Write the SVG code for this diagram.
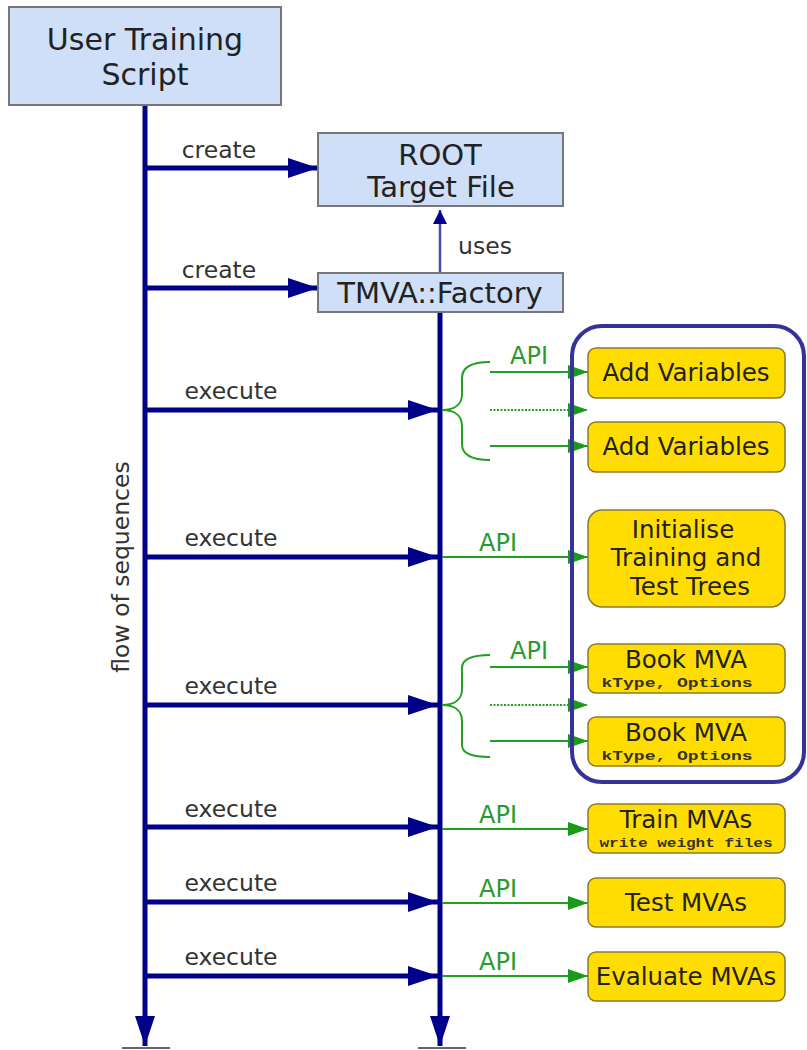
<svg xmlns="http://www.w3.org/2000/svg" width="807" height="1050" viewBox="0 0 807 1050">
<style>
.bbox{fill:#cfdff8;stroke:#777;stroke-width:2}
.ybox{fill:#ffdd00;stroke:#8a7a30;stroke-width:1.5}
.t{font-family:"DejaVu Sans",Verdana,sans-serif;fill:#222;text-anchor:middle}
.lbl{font-family:"DejaVu Sans",Verdana,sans-serif;fill:#333;font-size:23.5px;text-anchor:middle}
.api{font-family:"DejaVu Sans",Verdana,sans-serif;fill:#2a9a2a;font-size:24px;text-anchor:middle}
.mono{font-family:"Liberation Mono","DejaVu Sans Mono",monospace;fill:#333;font-size:12.5px;font-weight:bold;text-anchor:middle}
.navy{stroke:#00008b;stroke-width:5;fill:none}
.green{stroke:#22a022;stroke-width:2;fill:none}
.dot{stroke:#22a022;stroke-width:2;fill:none;stroke-dasharray:2 1.5}
</style>
<defs>
<marker id="an" viewBox="0 0 30 20" markerWidth="30" markerHeight="20" refX="30" refY="10" orient="auto" markerUnits="userSpaceOnUse"><path d="M0,0 L30,10 L0,20 Z" fill="#00008b"/></marker>
<marker id="au" viewBox="0 0 14 20" markerWidth="14" markerHeight="20" refX="14" refY="7" orient="auto" markerUnits="userSpaceOnUse"><path d="M0,0 L14,7 L0,14 Z" fill="#00008b"/></marker>
<marker id="ag" viewBox="0 0 20 14" markerWidth="20" markerHeight="14" refX="20" refY="7" orient="auto" markerUnits="userSpaceOnUse"><path d="M0,0 L20,7 L0,14 Z" fill="#1a9a1a"/></marker>
</defs>

<g id="connectors">
  <line class="navy" x1="145" y1="105" x2="145" y2="1046" marker-end="url(#an)"/>
  <line class="navy" x1="440" y1="312" x2="440" y2="1046" marker-end="url(#an)"/>
  <line x1="122" y1="1048" x2="170" y2="1048" stroke="#666" stroke-width="2"/>
  <line x1="418" y1="1048" x2="466" y2="1048" stroke="#666" stroke-width="2"/>
  <line class="navy" x1="145" y1="168" x2="318" y2="168" marker-end="url(#an)"/>
  <line class="navy" x1="145" y1="288" x2="318" y2="288" marker-end="url(#an)"/>
  <line x1="440" y1="273" x2="440" y2="210" stroke="#4a4aa8" stroke-width="2.5" marker-end="url(#au)"/>
  <line class="navy" x1="145" y1="410" x2="438" y2="410" marker-end="url(#an)"/>
  <line class="navy" x1="145" y1="557" x2="438" y2="557" marker-end="url(#an)"/>
  <line class="navy" x1="145" y1="705" x2="438" y2="705" marker-end="url(#an)"/>
  <line class="navy" x1="145" y1="827" x2="438" y2="827" marker-end="url(#an)"/>
  <line class="navy" x1="145" y1="902" x2="438" y2="902" marker-end="url(#an)"/>
  <line class="navy" x1="145" y1="976" x2="438" y2="976" marker-end="url(#an)"/>
  <path class="green" d="M442,410 C455,410 462,404 462,394 L462,378 C462,368 470,362 490,362 M442,410 C455,410 462,416 462,426 L462,444 C462,454 470,460 490,460"/>
  <line class="green" x1="490" y1="372" x2="588" y2="372" marker-end="url(#ag)"/>
  <line class="dot" x1="490" y1="410" x2="588" y2="410" marker-end="url(#ag)"/>
  <line class="green" x1="490" y1="446" x2="588" y2="446" marker-end="url(#ag)"/>
  <line class="green" x1="442" y1="557" x2="588" y2="557" marker-end="url(#ag)"/>
  <path class="green" d="M442,705 C455,705 462,699 462,689 L462,668 C462,660 470,655 490,655 M442,705 C455,705 462,711 462,721 L462,745 C462,753 470,757 490,757"/>
  <line class="green" x1="490" y1="667" x2="588" y2="667" marker-end="url(#ag)"/>
  <line class="dot" x1="490" y1="705" x2="588" y2="705" marker-end="url(#ag)"/>
  <line class="green" x1="490" y1="741" x2="588" y2="741" marker-end="url(#ag)"/>
  <line class="green" x1="442" y1="829" x2="588" y2="829" marker-end="url(#ag)"/>
  <line class="green" x1="442" y1="903" x2="588" y2="903" marker-end="url(#ag)"/>
  <line class="green" x1="442" y1="976" x2="588" y2="976" marker-end="url(#ag)"/>
  <text class="lbl" x="219" y="158">create</text>
  <text class="lbl" x="219" y="278">create</text>
  <text class="lbl" x="485" y="254">uses</text>
  <text class="lbl" x="231" y="399">execute</text>
  <text class="lbl" x="231" y="546">execute</text>
  <text class="lbl" x="231" y="694">execute</text>
  <text class="lbl" x="231" y="817">execute</text>
  <text class="lbl" x="231" y="891">execute</text>
  <text class="lbl" x="231" y="965">execute</text>
  <text class="api" x="529" y="364">API</text>
  <text class="api" x="498" y="551">API</text>
  <text class="api" x="529" y="659">API</text>
  <text class="api" x="498" y="823">API</text>
  <text class="api" x="498" y="897">API</text>
  <text class="api" x="498" y="970">API</text>
  <text class="lbl" transform="translate(129,567) rotate(-90)">flow of sequences</text>
</g>

<g id="group-box"><rect x="572" y="326" width="232" height="456" rx="30" fill="none" stroke="#333399" stroke-width="4"/></g>

<g id="user-script"><rect class="bbox" x="9" y="7" width="272" height="98"/><text class="t" x="145" y="50" font-size="30">User Training</text><text class="t" x="145" y="85" font-size="30">Script</text></g>
<g id="root-file"><rect class="bbox" x="318" y="133" width="245" height="73"/><text class="t" x="440" y="165" font-size="29">ROOT</text><text class="t" x="441" y="197" font-size="29">Target File</text></g>
<g id="factory"><rect class="bbox" x="318" y="273" width="245" height="39"/><text class="t" x="440" y="303" font-size="29">TMVA::Factory</text></g>

<g id="add-vars-1"><rect class="ybox" x="588" y="348" width="197" height="50" rx="8"/><text class="t" x="686" y="381" font-size="24.5">Add Variables</text></g>
<g id="add-vars-2"><rect class="ybox" x="588" y="422" width="197" height="50" rx="8"/><text class="t" x="686" y="455" font-size="24.5">Add Variables</text></g>
<g id="init-trees"><rect class="ybox" x="588" y="510" width="197" height="97" rx="14"/><text class="t" x="683" y="538" font-size="24.5">Initialise</text><text class="t" x="686" y="566" font-size="24.5">Training and</text><text class="t" x="690" y="595" font-size="24.5">Test Trees</text></g>
<g id="book-mva-1"><rect class="ybox" x="588" y="644" width="197" height="49" rx="8"/><text class="t" x="686" y="668" font-size="24.5">Book MVA</text><text class="mono" x="677" y="687" textLength="151" lengthAdjust="spacingAndGlyphs">kType, Options</text></g>
<g id="book-mva-2"><rect class="ybox" x="588" y="717" width="197" height="49" rx="8"/><text class="t" x="686" y="741" font-size="24.5">Book MVA</text><text class="mono" x="677" y="760" textLength="151" lengthAdjust="spacingAndGlyphs">kType, Options</text></g>
<g id="train-mvas"><rect class="ybox" x="588" y="804" width="197" height="49" rx="8"/><text class="t" x="686" y="828" font-size="24.5">Train MVAs</text><text class="mono" x="686" y="847" textLength="173" lengthAdjust="spacingAndGlyphs">write weight files</text></g>
<g id="test-mvas"><rect class="ybox" x="588" y="878" width="197" height="49" rx="8"/><text class="t" x="686" y="911" font-size="24.5">Test MVAs</text></g>
<g id="evaluate-mvas"><rect class="ybox" x="588" y="952" width="197" height="49" rx="8"/><text class="t" x="686" y="985" font-size="24.5">Evaluate MVAs</text></g>
</svg>
